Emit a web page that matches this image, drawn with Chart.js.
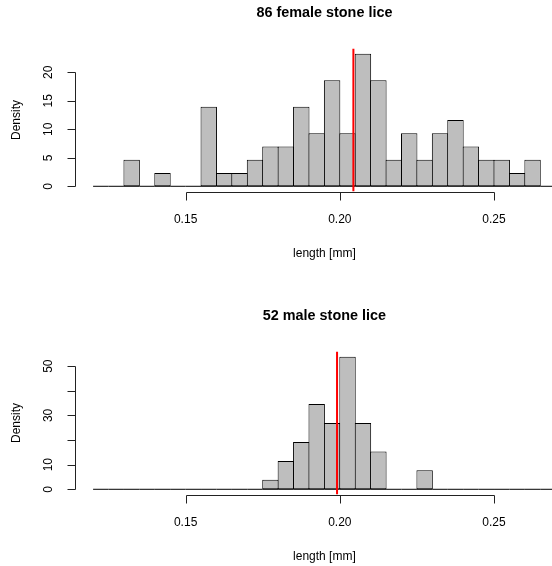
<!DOCTYPE html>
<html>
<head>
<meta charset="utf-8">
<title>Stone lice length</title>
<script src="https://cdn.jsdelivr.net/npm/chart.js@4.4.1/dist/chart.umd.min.js"></script>
<style>
  html, body { margin: 0; padding: 0; background: #fff; overflow: hidden; }
  #wrap { position: relative; width: 552px; height: 566px; overflow: hidden; }
  canvas { position: absolute; left: 0; }
</style>
</head>
<body>
<div id="wrap">
  <canvas id="femaleChart" width="600" height="303" style="top:0"></canvas>
  <canvas id="maleChart" width="600" height="263" style="top:303px"></canvas>
</div>
<script>
// histogram break points (mm), shared by both panels
const breaks = [0.12, 0.125, 0.13, 0.135, 0.14, 0.145, 0.15, 0.155, 0.16, 0.165,
  0.17, 0.175, 0.18, 0.185, 0.19, 0.195, 0.2, 0.205, 0.21, 0.215,
  0.22, 0.225, 0.23, 0.235, 0.24, 0.245, 0.25, 0.255, 0.26, 0.265, 0.27];

// counts per bin
const femaleCounts = [0, 0, 2, 0, 1, 0, 0, 6, 1, 1,
  2, 3, 3, 6, 4, 8, 4, 10, 8, 2,
  4, 2, 4, 5, 3, 2, 2, 1, 2, 0];
const maleCounts = [0, 0, 0, 0, 0, 0, 0, 0, 0, 0,
  0, 1, 3, 5, 9, 7, 14, 7, 4, 0,
  0, 2, 0, 0, 0, 0, 0, 0, 0, 0];

const femaleMean = 0.2044;
const maleMean = 0.1991;

const xTicks = [0.15, 0.2, 0.25];
const xTickLabels = ["0.15", "0.20", "0.25"];
const femaleYTicks = [0, 5, 10, 15, 20];
const femaleYLabels = ["0", "5", "10", "15", "20"];
const maleYTicks = [0, 10, 20, 30, 40, 50];
const maleYLabels = ["0", "10", "", "30", "", "50"];

const FONT = "'Liberation Sans', Arial, Helvetica, sans-serif";
const TICK = 8;

// R style axes, labels and title
const histAxes = {
  id: "histAxes",
  afterDraw(chart, args, opts) {
    const ctx = chart.ctx;
    const xs = chart.scales.x;
    const ys = chart.scales.y;
    const area = chart.chartArea;
    const midX = (area.left + area.right) / 2;

    ctx.save();
    ctx.strokeStyle = "#222";
    ctx.fillStyle = "#000";
    ctx.lineWidth = 1;

    // x axis
    const xa = Math.round(area.bottom) + 0.5;
    ctx.beginPath();
    ctx.moveTo(Math.round(xs.getPixelForValue(xTicks[0])) + 0.5, xa);
    ctx.lineTo(Math.round(xs.getPixelForValue(xTicks[xTicks.length - 1])) + 0.5, xa);
    xTicks.forEach((t) => {
      const px = Math.round(xs.getPixelForValue(t)) + 0.5;
      ctx.moveTo(px, xa);
      ctx.lineTo(px, xa + TICK);
    });
    // y axis
    const ya = Math.round(area.left) + 0.5;
    const yt = opts.yTicks;
    ctx.moveTo(ya, Math.round(ys.getPixelForValue(yt[0])) + 0.5);
    ctx.lineTo(ya, Math.round(ys.getPixelForValue(yt[yt.length - 1])) + 0.5);
    yt.forEach((t) => {
      const py = Math.round(ys.getPixelForValue(t)) + 0.5;
      ctx.moveTo(ya, py);
      ctx.lineTo(ya - TICK, py);
    });
    ctx.stroke();

    ctx.font = "12px " + FONT;
    ctx.textAlign = "center";
    ctx.textBaseline = "middle";
    xTicks.forEach((t, i) => {
      ctx.fillText(xTickLabels[i], xs.getPixelForValue(t), area.bottom + 28);
    });
    ctx.fillText("length [mm]", midX, area.bottom + 62);

    // rotated y labels
    yt.forEach((t, i) => {
      if (!opts.yLabels[i]) return;
      ctx.save();
      ctx.translate(area.left - 26, ys.getPixelForValue(t));
      ctx.rotate(-Math.PI / 2);
      ctx.fillText(opts.yLabels[i], 0, 0);
      ctx.restore();
    });
    ctx.save();
    ctx.translate(17, (area.top + area.bottom) / 2);
    ctx.rotate(-Math.PI / 2);
    ctx.fillText("Density", 0, 0);
    ctx.restore();

    // main title
    ctx.font = "bold 14.4px " + FONT;
    ctx.fillText(opts.title, midX, area.top - 35);
    ctx.restore();
  },
};

function makeHistogram(canvasId, title, counts, mean, yTicks, yLabels) {
  const canvas = document.getElementById(canvasId);
  const n = counts.reduce((a, b) => a + b, 0);
  const bins = counts.map((c, i) => ({
    x: (breaks[i] + breaks[i + 1]) / 2,
    y: c / (n * (breaks[i + 1] - breaks[i])),
  }));
  const yMax = Math.max(...bins.map((b) => b.y));
  const yLo = -0.04 * yMax;
  const yHi = 1.04 * yMax;

  return new Chart(canvas, {
    type: "bar",
    data: {
      datasets: [
        {
          type: "line",
          data: [
            { x: mean, y: yLo },
            { x: mean, y: yHi },
          ],
          borderColor: "#ff0000",
          borderWidth: 2,
          pointRadius: 0,
          order: 0,
        },
        {
          type: "line",
          data: breaks.map((b) => ({ x: b, y: 0 })),
          borderColor: "#000",
          borderWidth: 1,
          pointRadius: 0,
          order: 1,
        },
        {
          data: bins,
          backgroundColor: "#bebebe",
          borderColor: "#000",
          borderWidth: 1,
          borderSkipped: false,
          inflateAmount: 0,
          barPercentage: 1.065,
          categoryPercentage: 1,
          grouped: false,
          order: 2,
        },
      ],
    },
    options: {
      responsive: false,
      animation: false,
      layout: {
        padding: {
          left: 74.6,
          right: 600 - 574.2,
          top: 48.4,
          bottom: canvas.height - 191.6,
        },
      },
      scales: {
        x: { type: "linear", min: 0.114, max: 0.276, offset: false, display: false },
        y: { type: "linear", min: yLo, max: yHi, display: false },
      },
      plugins: {
        legend: { display: false },
        tooltip: { enabled: false },
        histAxes: { title: title, yTicks: yTicks, yLabels: yLabels },
      },
    },
    plugins: [histAxes],
  });
}

makeHistogram("femaleChart", "86 female stone lice", femaleCounts, femaleMean, femaleYTicks, femaleYLabels);
makeHistogram("maleChart", "52 male stone lice", maleCounts, maleMean, maleYTicks, maleYLabels);
</script>
</body>
</html>
